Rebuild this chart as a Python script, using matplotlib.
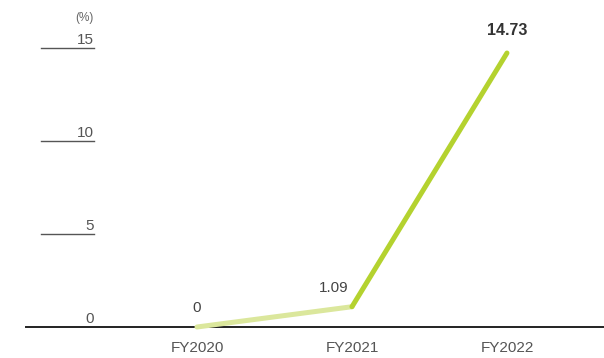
import matplotlib.pyplot as plt

plt.rcParams["font.family"] = ["Liberation Sans", "DejaVu Sans"]

years = ["FY2020", "FY2021", "FY2022"]
values = [0, 1.09, 14.73]
value_labels = ["0", "1.09", "14.73"]
y_ticks = [0, 5, 10, 15]

fig = plt.figure(figsize=(6.04, 3.58), dpi=100)
ax = fig.add_axes([26 / 604, 31 / 358, 1 - 26 / 604, 1 - 31 / 358])

x = list(range(len(years)))

# first segment pale, second segment bright
ax.plot(x[:2], values[:2], color="#dbe79c", lw=3.6,
        solid_capstyle="round", clip_on=False, zorder=3)
ax.plot(x[1:], values[1:], color="#b4d22f", lw=3.6,
        solid_capstyle="round", clip_on=False, zorder=4)

ax.set_xlim(-1.103, 2.626)
ax.set_ylim(0, 17.58)

for s in ["top", "right", "left"]:
    ax.spines[s].set_visible(False)
ax.spines["bottom"].set_color("#222222")
ax.spines["bottom"].set_linewidth(1.4)
ax.set_yticks([])
ax.set_xticks(x)
ax.set_xticklabels(years, fontsize=11, color="#555555")
ax.tick_params(axis="x", length=0, pad=10)

# short y grid marks with labels sitting on them
ytr = ax.get_yaxis_transform()
x0, x1 = (41 - 26) / 578, (94 - 26) / 578
for v in y_ticks:
    if v > 0:
        ax.plot([x0, x1], [v, v], transform=ytr, color="#555555",
                lw=1.0, clip_on=False)
    ax.text(x1, v + 0.2, str(v), transform=ytr, ha="right", va="baseline",
            fontsize=11, color="#555555")
ax.text(x1, 16.45, "(%)", transform=ytr, ha="right", va="baseline",
        fontsize=8.5, color="#666666")

# value labels
ax.text(x[0], values[0] + 0.8, value_labels[0], ha="center", va="baseline",
        fontsize=11, color="#444444")
ax.text(x[1] - 0.12, values[1] + 0.8, value_labels[1], ha="center",
        va="baseline", fontsize=11, color="#444444")
ax.text(x[2], values[2] + 0.97, value_labels[2], ha="center", va="baseline",
        fontsize=11.5, fontweight="bold", color="#333333")

fig.savefig("out.png", dpi=100)
